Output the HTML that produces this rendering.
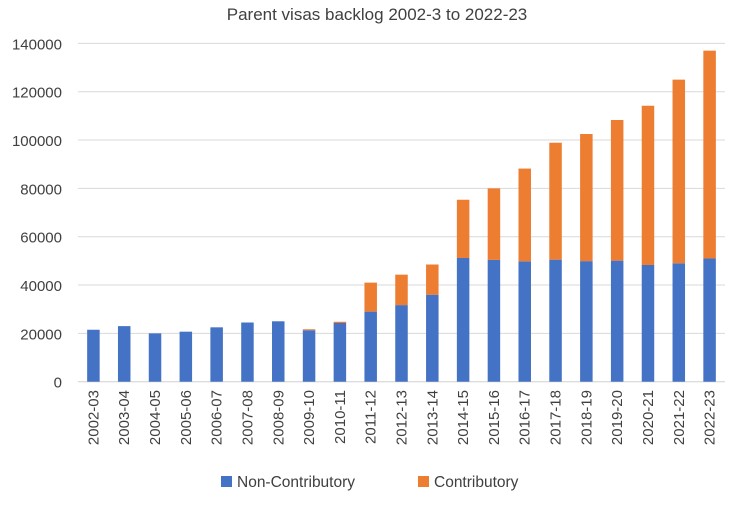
<!DOCTYPE html>
<html><head><meta charset="utf-8"><style>
body{margin:0;background:#fff;font-family:"Liberation Sans",sans-serif}
</style></head><body>
<svg width="754" height="500" xmlns="http://www.w3.org/2000/svg">
<rect width="754" height="500" fill="#fff"/>
<text x="377" y="20" text-anchor="middle" font-size="17" fill="#404040">Parent visas backlog 2002-3 to 2022-23</text>
<g id="grid"></g><g id="bars"></g><g id="xlabels"></g><g id="ylabels"></g>
<g>
<rect x="221" y="476" width="11" height="11" fill="#4472c4"/>
<text x="237" y="487" font-size="15.5" fill="#404040">Non-Contributory</text>
<rect x="418" y="476" width="11" height="11" fill="#ed7d31"/>
<text x="434" y="487" font-size="15.5" fill="#404040">Contributory</text>
</g>
</svg>
<script>
const categories=["2002-03","2003-04","2004-05","2005-06","2006-07","2007-08","2008-09","2009-10","2010-11","2011-12","2012-13","2013-14","2014-15","2015-16","2016-17","2017-18","2018-19","2019-20","2020-21","2021-22","2022-23"];
const nonContributory=[21500,23000,20000,20700,22500,24500,25000,21300,24300,29000,31700,36000,51200,50400,49800,50500,49900,50100,48300,49000,51000];
const contributory=[0,0,0,0,0,0,0,400,500,12000,12600,12500,24100,29600,38400,48400,52600,58200,65900,76000,86000];
const yTicks=[0,20000,40000,60000,80000,100000,120000,140000];
const NS="http://www.w3.org/2000/svg";
const x0=78,x1=725,yBase=381.7,yTop=43.4,yMax=140000;
const bw=(x1-x0)/categories.length;
function y(v){return yBase-(v/yMax)*(yBase-yTop);}
function xc(i){return x0+bw*(i+0.5);}
function mk(tag,attrs,parent){const e=document.createElementNS(NS,tag);for(const k in attrs)e.setAttribute(k,attrs[k]);document.getElementById(parent).appendChild(e);return e;}
yTicks.forEach(t=>{
 const l=mk('line',{x1:x0,x2:x1,y1:y(t),y2:y(t),stroke:t===0?'#d0d0d0':'#d9d9d9','stroke-width':1},'grid');
 
 
 const tx=mk('text',{x:62,y:y(t)+6,'text-anchor':'end','font-size':15,fill:'#404040'},'ylabels');
 tx.textContent=t;
 
 
});
categories.forEach((c,i)=>{
 const w=12.5,cx=xc(i);
 const b=mk('rect',{x:cx-w/2,y:y(nonContributory[i]),width:w,height:y(0)-y(nonContributory[i]),fill:'#4472c4'},'bars');
 
 
 if(contributory[i]>0){
  const top=nonContributory[i]+contributory[i];
  const o=mk('rect',{x:cx-w/2,y:y(top),width:w,height:y(nonContributory[i])-y(top),fill:'#ed7d31'},'bars');
  
  
 }
 const t=mk('text',{x:0,y:0,'text-anchor':'end','font-size':15,fill:'#404040',transform:`translate(${cx+5},390) rotate(-90)`},'xlabels');
 t.textContent=c;
 
 
});
</script>
</body></html>
